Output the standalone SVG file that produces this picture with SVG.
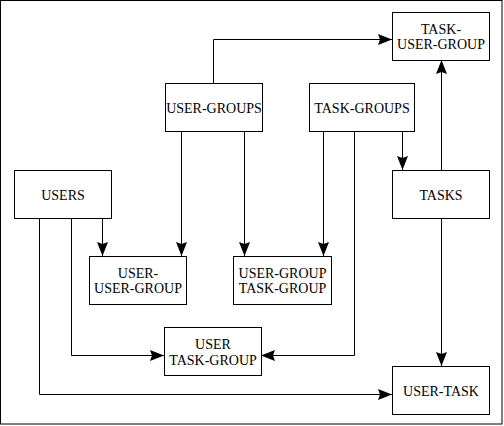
<svg xmlns="http://www.w3.org/2000/svg" width="504" height="426" viewBox="0 0 504 426">
<style>
.box{fill:#fff;stroke:#000;stroke-width:1}
.lbl{font-family:'Liberation Serif','Times New Roman',serif;font-size:14px;fill:#000;text-anchor:middle}
.conn{fill:none;stroke:#000;stroke-width:1;marker-end:url(#arr)}
</style>
<defs>
<marker id="arr" markerWidth="14" markerHeight="11" refX="14" refY="5.5" orient="auto" markerUnits="userSpaceOnUse">
<path d="M0,0 L14,5.5 L0,11 L2,5.5 Z" fill="#000"/>
</marker>
</defs>
<rect x="0.5" y="0.5" width="501.5" height="423.5" fill="#fff" stroke="#000" stroke-width="1"/>
<g id="connectors">
<path class="conn" d="M213.5,83 V39.5 H392"/>
<path class="conn" d="M181.5,131 V256"/>
<path class="conn" d="M244.5,131 V256"/>
<path class="conn" d="M102.5,218 V256"/>
<path class="conn" d="M71.5,218 V355.5 H164"/>
<path class="conn" d="M39.5,218 V394.5 H392"/>
<path class="conn" d="M323.5,131 V256"/>
<path class="conn" d="M354.5,131 V355.5 H261"/>
<path class="conn" d="M402.5,131 V170"/>
<path class="conn" d="M441.5,170 V60"/>
<path class="conn" d="M441.5,218 V366"/>
</g>
<g id="task-user-group">
<rect class="box" x="392.5" y="12.5" width="97" height="48"/>
<text class="lbl" x="441" y="34">TASK-</text>
<text class="lbl" x="441" y="49">USER-GROUP</text>
</g>
<g id="user-groups">
<rect class="box" x="165.5" y="83.5" width="97" height="48"/>
<text class="lbl" x="214" y="113">USER-GROUPS</text>
</g>
<g id="task-groups">
<rect class="box" x="309.5" y="83.5" width="105" height="48"/>
<text class="lbl" x="362" y="113">TASK-GROUPS</text>
</g>
<g id="users">
<rect class="box" x="14.5" y="170.5" width="97" height="48"/>
<text class="lbl" x="63" y="200">USERS</text>
</g>
<g id="tasks">
<rect class="box" x="392.5" y="170.5" width="97" height="48"/>
<text class="lbl" x="441" y="200">TASKS</text>
</g>
<g id="user-user-group">
<rect class="box" x="89.5" y="256.5" width="97" height="48"/>
<text class="lbl" x="138" y="278">USER-</text>
<text class="lbl" x="138" y="293">USER-GROUP</text>
</g>
<g id="user-group-task-group">
<rect class="box" x="233.5" y="256.5" width="98" height="48"/>
<text class="lbl" x="282.5" y="278">USER-GROUP</text>
<text class="lbl" x="282.5" y="293">TASK-GROUP</text>
</g>
<g id="user-task-group">
<rect class="box" x="164.5" y="327.5" width="97" height="48"/>
<text class="lbl" x="213" y="349">USER</text>
<text class="lbl" x="213" y="365">TASK-GROUP</text>
</g>
<g id="user-task">
<rect class="box" x="392.5" y="366.5" width="97" height="48"/>
<text class="lbl" x="441" y="396">USER-TASK</text>
</g>
</svg>
